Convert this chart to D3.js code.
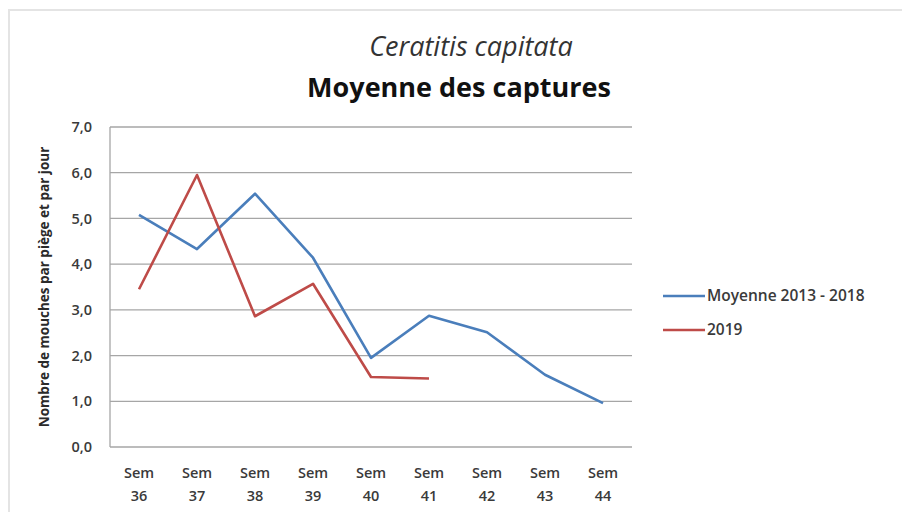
<!DOCTYPE html>
<html>
<head>
<meta charset="utf-8">
<script src="https://cdn.jsdelivr.net/npm/d3@7"></script>
<style>
  body { margin: 0; background: #fff; }
  svg { display: block; }
</style>
</head>
<body>
<script>
// data
const weeks = ["Sem 36", "Sem 37", "Sem 38", "Sem 39", "Sem 40", "Sem 41", "Sem 42", "Sem 43", "Sem 44"];
const moyenne = [5.08, 4.33, 5.54, 4.14, 1.95, 2.87, 2.51, 1.58, 0.96];
const y2019 = [3.45, 5.95, 2.86, 3.57, 1.53, 1.5];
const yTicks = [0, 1, 2, 3, 4, 5, 6, 7];
const seriesNames = ["Moyenne 2013 - 2018", "2019"];

const width = 902, height = 512;
const margin = {top: 127, right: 270, bottom: 65, left: 110};

const svg = d3.select("body").append("svg")
    .attr("width", width)
    .attr("height", height)
    .attr("font-family", "'Open Sans', sans-serif");

// chart frame with a soft edge
svg.append("rect")
    .attr("x", 9).attr("y", 10)
    .attr("width", width + 10).attr("height", height)
    .attr("fill", "#fff")
    .attr("stroke", "#e4e4e4")
    .attr("stroke-width", 2);

const x = d3.scaleBand()
    .domain(weeks)
    .range([margin.left, width - margin.right]);

const y = d3.scaleLinear()
    .domain([0, 7])
    .range([height - margin.bottom, margin.top]);

// gridlines
svg.append("g")
  .selectAll("line")
  .data(yTicks)
  .join("line")
    .attr("x1", margin.left)
    .attr("x2", width - margin.right)
    .attr("y1", d => y(d))
    .attr("y2", d => y(d))
    .attr("stroke", "#a6a6a6")
    .attr("stroke-width", 1.3);

// left axis line
svg.append("line")
    .attr("x1", margin.left).attr("x2", margin.left)
    .attr("y1", y(7)).attr("y2", y(0))
    .attr("stroke", "#a6a6a6")
    .attr("stroke-width", 1.3);

const fmt = d => d.toFixed(1).replace(".", ",");

svg.append("g")
  .selectAll("text")
  .data(yTicks)
  .join("text")
    .attr("x", margin.left - 18)
    .attr("y", d => y(d))
    .attr("dy", "0.35em")
    .attr("text-anchor", "end")
    .attr("font-size", 14.5)
    .attr("font-weight", 600)
    .attr("fill", "#3a3a3a")
    .text(fmt);

// x labels on two lines
const xl = svg.append("g")
  .selectAll("text")
  .data(weeks)
  .join("text")
    .attr("text-anchor", "middle")
    .attr("font-size", 14.5)
    .attr("font-weight", 600)
    .attr("fill", "#3a3a3a");
xl.append("tspan")
    .attr("x", d => x(d) + x.bandwidth() / 2)
    .attr("y", 478)
    .text(d => d.split(" ")[0]);
xl.append("tspan")
    .attr("x", d => x(d) + x.bandwidth() / 2)
    .attr("y", 501)
    .text(d => d.split(" ")[1]);

// y axis title
svg.append("text")
    .attr("transform", `translate(49,${(y(0) + y(7)) / 2}) rotate(-90)`)
    .attr("text-anchor", "middle")
    .attr("font-size", 13.5)
    .attr("font-weight", 700)
    .attr("fill", "#2a2a2a")
    .text("Nombre de mouches par piège et par jour");

// titles
svg.append("text")
    .attr("x", 471).attr("y", 56)
    .attr("text-anchor", "middle")
    .attr("font-size", 27)
    .attr("font-style", "italic")
    .attr("fill", "#333")
    .text("Ceratitis capitata");

svg.append("text")
    .attr("x", 459).attr("y", 97)
    .attr("text-anchor", "middle")
    .attr("font-size", 27)
    .attr("font-weight", 700)
    .attr("fill", "#111")
    .text("Moyenne des captures");

const colors = ["#4a7ebb", "#be4b48"];

const line = d3.line()
    .x((d, i) => x(weeks[i]) + x.bandwidth() / 2)
    .y(d => y(d));

[moyenne, y2019].forEach((vals, k) => {
  svg.append("path")
      .datum(vals)
      .attr("fill", "none")
      .attr("stroke", colors[k])
      .attr("stroke-width", 2.6)
      .attr("stroke-linejoin", "round")
      .attr("d", line);
});

// legend
const legend = svg.append("g")
  .selectAll("g")
  .data(seriesNames)
  .join("g")
    .attr("transform", (d, i) => `translate(663,${296 + i * 34})`);
legend.append("line")
    .attr("x1", 0).attr("x2", 42)
    .attr("stroke", (d, i) => colors[i])
    .attr("stroke-width", 2.6);
legend.append("text")
    .attr("x", 44)
    .attr("dy", "0.35em")
    .attr("font-size", 15.5)
    .attr("font-weight", 600)
    .attr("fill", "#3a3a3a")
    .text(d => d);
</script>
</body>
</html>
